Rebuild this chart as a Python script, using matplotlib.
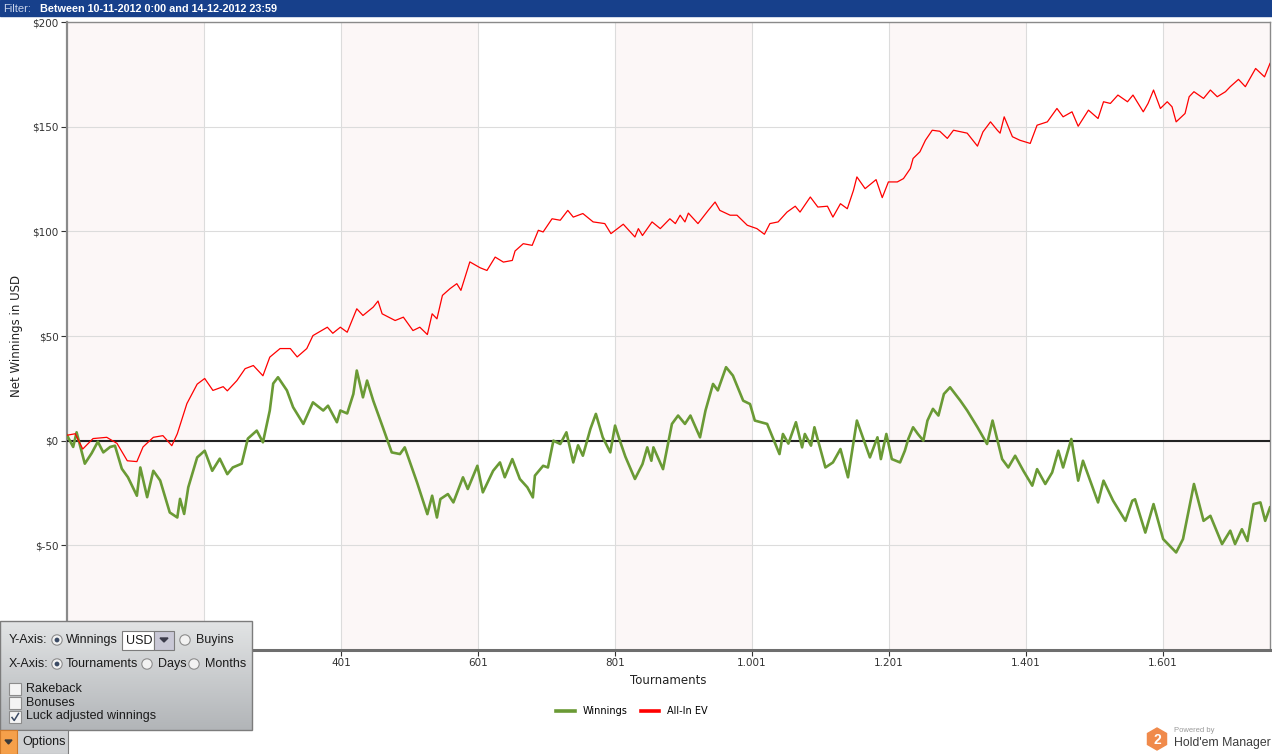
import matplotlib
matplotlib.use("Agg")
import matplotlib.pyplot as plt
import numpy as np
from matplotlib.patches import Rectangle, Circle, Polygon, RegularPolygon
from matplotlib.lines import Line2D
from matplotlib.colors import LinearSegmentedColormap

# tournament number / net winnings (USD)
win_t = [1, 10, 15, 27, 37, 46, 54, 64, 71, 81, 90, 103, 108, 118, 127, 137, 151, 162, 166, 172,
         178, 191, 202, 213, 224, 235, 243, 256, 265, 278, 287, 297, 302, 309, 322, 331, 346, 360,
         375, 382, 395, 400, 410, 419, 424, 433, 439, 448, 462, 475, 487, 494, 512, 527, 534, 541,
         546, 557, 565, 579, 586, 600, 608, 623, 633, 640, 651, 662, 673, 681, 684, 696, 703, 711,
         721, 730, 740, 747, 754, 765, 773, 783, 794, 801, 808, 816, 830, 841, 848, 854, 857, 871,
         884, 893, 903, 911, 925, 933, 944, 951, 957, 963, 973, 988, 998, 1005, 1023, 1041, 1046,
         1054, 1065, 1074, 1078, 1087, 1092, 1108, 1119, 1130, 1141, 1154, 1173, 1184, 1189, 1197,
         1205, 1217, 1224, 1229, 1236, 1243, 1251, 1257, 1265, 1273, 1281, 1290, 1305, 1315, 1330,
         1344, 1352, 1366, 1375, 1385, 1397, 1410, 1417, 1429, 1439, 1448, 1455, 1467, 1477, 1484,
         1506, 1514, 1528, 1546, 1556, 1560, 1575, 1587, 1601, 1620, 1630, 1646, 1660, 1670, 1687,
         1699, 1706, 1716, 1724, 1733, 1743, 1750, 1757]
win_v = [2.6, -3, 4, -11, -6, -0.5, -5.6, -3, -2.4, -13.4, -17.5, -26.3, -12.8, -27, -14.4, -19,
         -34.3, -36.7, -27.8, -35, -22.3, -8, -4.8, -14.4, -8.6, -16, -12.8, -11, 1, 4.8, -0.8,
         14.4, 27.3, 30.3, 24, 16, 8, 18.3, 14.4, 16.7, 8.8, 14.4, 13, 22.3, 33.5, 20.7, 28.7, 19.1,
         6.4, -5.6, -6.4, -3.2, -20, -35.1, -26.3, -36.7, -27.9, -25.5, -29.5, -17.5, -23.1, -12,
         -24.7, -14.4, -10.4, -17.5, -8.8, -18.3, -22.3, -27.1, -16.7, -12, -12.8, 0, -1.6, 4,
         -10.4, -2.2, -7.2, 5.6, 12.8, 1.6, -5.6, 7.2, 0, -7.6, -18.3, -11.2, -3.2, -9.6, -3.2,
         -13.6, 8, 12, 8, 12, 1.6, 14.4, 27.1, 24, 29.5, 35.1, 31.1, 19.1, 17.5, 9.6, 8, -6.4, 3.2,
         -1.4, 8.8, -3.2, 3.2, -2.4, 6.4, -12.8, -10.4, -4, -17.5, 9.6, -8, 1.6, -8.8, 3.2, -8.8,
         -10.4, -4.8, 0.8, 6.4, 3.2, 0, 9.6, 15.2, 12, 22.3, 25.5, 19.1, 14.4, 6.4, -1.6, 9.6, -8.8,
         -12.8, -7.2, -14.4, -21.5, -13.6, -20.7, -15.2, -4.8, -12.8, 0.8, -19.1, -9.6, -29.5,
         -19.1, -28.7, -38.3, -28.7, -28, -43.9, -30.3, -47, -53.4, -47, -20.7, -38.3, -35.9,
         -49.4, -43, -49.4, -42.3, -47.9, -30.3, -29.5, -38.3, -31.9]

# tournament number / all-in EV (USD)
ev_t = [1, 13, 24, 39, 59, 74, 89, 103, 112, 127, 141, 154, 162, 176, 191, 202, 214, 229, 235,
        249, 261, 273, 287, 297, 312, 327, 337, 351, 360, 381, 389, 400, 410, 424, 433, 448, 455,
        461, 480, 492, 506, 516, 527, 534, 541, 549, 560, 570, 576, 589, 604, 614, 626, 638, 651,
        655, 667, 680, 689, 696, 709, 721, 732, 740, 754, 769, 786, 795, 813, 830, 835, 841, 855,
        867, 881, 889, 896, 903, 908, 922, 937, 947, 954, 969, 979, 994, 1008, 1019, 1027, 1039,
        1052, 1064, 1071, 1086, 1097, 1111, 1119, 1130, 1140, 1149, 1154, 1166, 1182, 1191, 1200,
        1213, 1222, 1232, 1236, 1246, 1254, 1264, 1275, 1286, 1295, 1315, 1330, 1338, 1349, 1359,
        1363, 1369, 1381, 1392, 1407, 1417, 1432, 1446, 1455, 1468, 1477, 1492, 1506, 1514, 1524,
        1535, 1549, 1557, 1572, 1579, 1587, 1597, 1607, 1614, 1620, 1633, 1639, 1646, 1660, 1670,
        1680, 1692, 1699, 1711, 1721, 1736, 1749, 1757]
ev_v = [2.6, 3.3, -4, 1, 1.6, -1.3, -9.6, -10, -3, 1.6, 2.4, -2.4, 3.3, 17.7, 27, 29.7, 24, 25.8,
        23.8, 28.7, 34.4, 35.9, 31, 39.9, 44, 44, 40, 44, 50.2, 54.2, 51.3, 54.2, 51.8, 63, 59.8,
        63.8, 66.7, 60.6, 57.4, 59, 52.6, 54.2, 50.7, 60.6, 58.2, 69.4, 72.6, 75, 71.8, 85.4, 82.6,
        81.3, 87.7, 85.3, 86.1, 90.6, 94.1, 93.3, 100.5, 99.7, 106, 105.3, 110, 106.8, 108.5,
        104.5, 103.7, 98.9, 103.4, 97.3, 101.3, 98, 104.5, 101.3, 106, 103.7, 107.7, 104.5, 108.7,
        103.7, 110, 114, 110, 107.7, 107.7, 102.9, 101.3, 98.6, 103.7, 104.5, 109.2, 112, 109.2,
        116.4, 111.6, 112, 106.8, 113.2, 110.8, 119.6, 126, 120.4, 124.7, 116.1, 123.6, 123.6,
        125.2, 130, 134.8, 138, 143.5, 148.3, 147.8, 144.4, 148.3, 146.9, 140.7, 147.5, 152.3,
        148.3, 146.9, 154.7, 145.2, 143.5, 142, 150.7, 152.3, 158.7, 154.7, 157.1, 150.2, 157.9,
        153.9, 161.9, 161.1, 165.1, 161.9, 165.1, 157.1, 161.1, 167.5, 158.7, 161.9, 159.5, 152.3,
        156.3, 164.3, 166.7, 163.5, 167.5, 164.3, 166.7, 169.1, 172.6, 169.1, 177.8, 173.8, 180.2]

# the label of 201 sits under the options panel in the reference, so it is left blank
x_ticks = [201, 401, 601, 801, 1001, 1201, 1401, 1601]
x_labels = ["", "401", "601", "801", "1.001", "1.201", "1.401", "1.601"]
y_ticks = [-50, 0, 50, 100, 150, 200]
y_labels = ["$-50", "$0", "$50", "$100", "$150", "$200"]
band_starts = [1, 401, 801, 1201, 1601]

W, H = 1272, 754
fig = plt.figure(figsize=(W / 100, H / 100), dpi=100)
fig.patch.set_facecolor("white")
ax = fig.add_axes([67 / W, 1 - 650 / H, (1270 - 67) / W, (650 - 22) / H])

x_end = 1757
for s in band_starts:
    ax.axvspan(s, min(s + 200, x_end), color="#fcf7f7", zorder=0, lw=0)

ax.set_xlim(1, x_end)
ax.set_ylim(-100, 200)
ax.set_xticks(x_ticks)
ax.set_xticklabels(x_labels)
ax.set_yticks(y_ticks)
ax.set_yticklabels(y_labels)
ax.grid(True, color="#dcdcdc", lw=0.8, zorder=1)
ax.tick_params(labelsize=7.5, colors="#333333", length=4, width=0.8, pad=2)
for sp in ax.spines.values():
    sp.set_color("#8a8a8a")
    sp.set_linewidth(1.0)
ax.spines["left"].set_linewidth(1.6)
ax.spines["bottom"].set_linewidth(2.2)
ax.spines["bottom"].set_color("#6e6e6e")

ax.axhline(0, color="#222222", lw=1.5, zorder=3)
ax.plot(win_t, win_v, color="#6a9a35", lw=1.9, zorder=4)
ax.plot(ev_t, ev_v, color="#ff0000", lw=0.9, zorder=5)

ax.set_xlabel("Tournaments", fontsize=8.5, color="#222222", labelpad=4)
ax.set_ylabel("Net Winnings in USD", fontsize=8.5, color="#222222", labelpad=7)

handles = [Line2D([], [], color="#6a9a35", lw=2.6), Line2D([], [], color="#ff0000", lw=2.6)]
fig.legend(handles, ["Winnings", "All-In EV"], loc="center", bbox_to_anchor=(632 / W, 1 - 711 / H),
           ncol=2, frameon=False, fontsize=7, handlelength=1.9, columnspacing=1.4, handletextpad=0.8)

# ---- overlay for the surrounding application chrome ----
ui = fig.add_axes([0, 0, 1, 1], zorder=10)
ui.set_xlim(0, W)
ui.set_ylim(H, 0)
ui.axis("off")
ui.patch.set_alpha(0)

uf = "Liberation Sans"

# filter bar
ui.add_patch(Rectangle((0, 0), W, 16, color="#17408b"))
ui.text(3, 8.5, "Filter:", color="#c8d4ec", fontsize=8, va="center", family=uf)
ui.text(40, 8.5, "Between 10-11-2012 0:00 and 14-12-2012 23:59", color="white",
        fontsize=7.8, va="center", fontweight="bold", family=uf)

# options panel with gradient
grad = np.linspace(0, 1, 64).reshape(-1, 1)
cmap = LinearSegmentedColormap.from_list("g", ["#e2e4e5", "#b2b5b8"])
ui.imshow(grad, extent=(0, 252, 730, 621), cmap=cmap, aspect="auto", zorder=1)
ui.add_patch(Rectangle((0, 621), 252, 109, fill=False, ec="#7c7c7c", lw=1, zorder=2))

fs = 9
tc = "#1b1b1b"


def radio(x, y, on):
    ui.add_patch(Circle((x, y), 5.2, fc="#f2f2f2", ec="#8c8c8c", lw=0.8, zorder=3))
    if on:
        ui.add_patch(Circle((x, y), 2.4, fc="#3a4a64", ec="none", zorder=4))


def check(x, y, on):
    ui.add_patch(Rectangle((x, y), 12, 12, fc="#f4f4f4", ec="#8c8c8c", lw=0.8, zorder=3))
    if on:
        ui.plot([x + 3, x + 5.2, x + 9.5], [y + 6.5, y + 9.5, y + 2.5], color="#3a4a64", lw=1.1, zorder=4)


def label(x, y, s):
    ui.text(x, y, s, fontsize=fs, color=tc, va="center", family=uf, zorder=5)


label(9, 640, "Y-Axis:")
radio(57, 640, True)
label(66, 640, "Winnings")
ui.add_patch(Rectangle((122, 631), 32, 19, fc="white", ec="#7c7c7c", lw=0.8, zorder=3))
label(126, 640.5, "USD")
ui.add_patch(Rectangle((154, 631), 20, 19, fc="#c9c8d6", ec="#7c7c7c", lw=0.8, zorder=3))
ui.add_patch(Polygon([[160, 638], [168, 638], [164, 642]], color="#3b3b4a", zorder=4))
radio(185, 640, False)
label(196, 640, "Buyins")

label(9, 664, "X-Axis:")
radio(57, 664, True)
label(66, 664, "Tournaments")
radio(147, 664, False)
label(158, 664, "Days")
radio(194, 664, False)
label(205, 664, "Months")

check(9, 683, False)
label(26, 688.5, "Rakeback")
check(9, 697, False)
label(26, 702.5, "Bonuses")
check(9, 711, True)
label(26, 716.5, "Luck adjusted winnings")

# options button
ui.add_patch(Rectangle((0, 730), 68, 24, fc="#cfd1d3", ec="#7c7c7c", lw=0.8, zorder=3))
ui.add_patch(Rectangle((0, 730), 17, 24, fc="#f5a04a", ec="#d07a2a", lw=0.8, zorder=4))
ui.add_patch(Polygon([[5, 740], [12, 740], [8.5, 744]], color="#3a3a3a", zorder=5))
label(22, 742, "Options")

# logo
ui.add_patch(RegularPolygon((1157, 739), 6, radius=11, orientation=0, color="#f08a4b", zorder=3))
ui.text(1157, 739.5, "2", color="white", fontsize=10, fontweight="bold", ha="center", va="center",
        family=uf, zorder=4)
ui.text(1174, 731, "Powered by", color="#9a9a9a", fontsize=5.5, va="center", family=uf, zorder=4)
ui.text(1174, 743, "Hold'em Manager", color="#3c3c3c", fontsize=8.8, va="center", family=uf, zorder=4)

fig.savefig("out.png", dpi=100)
